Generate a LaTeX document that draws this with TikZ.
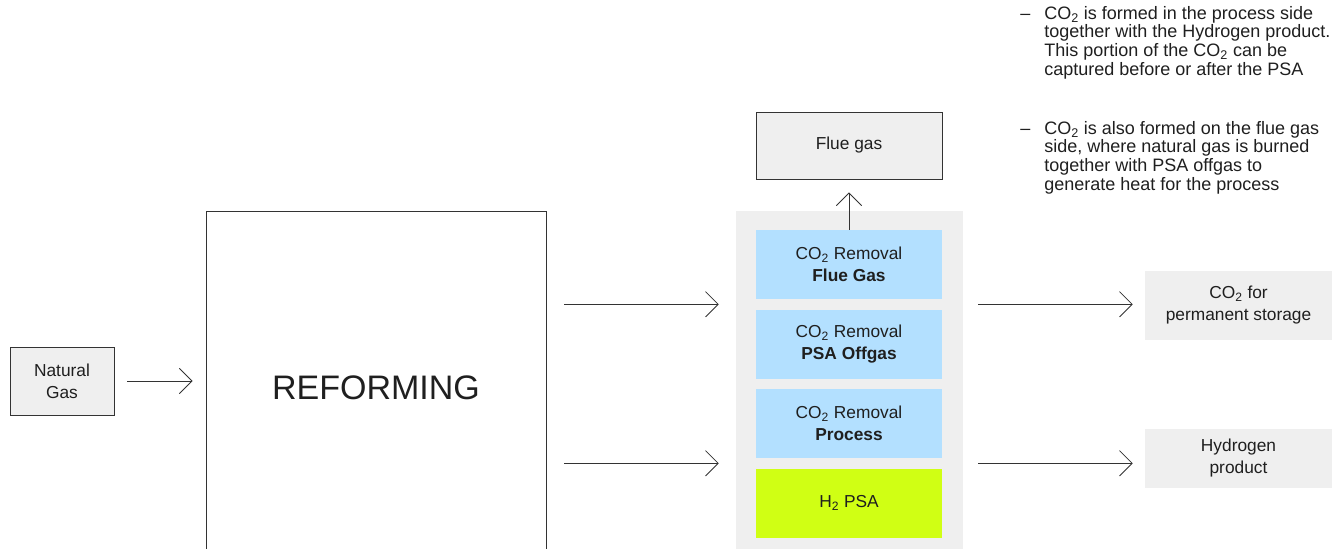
\documentclass[tikz,border=0pt]{standalone}
\usepackage{fontspec}
\setmainfont{Liberation Sans}
\usetikzlibrary{arrows.meta,positioning,calc}
\definecolor{panelgray}{HTML}{EFEFEF}
\definecolor{capblue}{HTML}{B3E0FF}
\definecolor{psagreen}{HTML}{D0FF14}
\definecolor{linegray}{HTML}{333333}
\newcommand{\cotwo}{CO\textsubscript{2}}

\begin{document}
\begin{tikzpicture}[x=0.75pt,y=-0.75pt,
    font=\fontsize{13}{16.5}\selectfont, text=black!88,
    flow/.style={draw=linegray, line width=0.6pt, -{Straight Barb[length=9.5pt,width=19pt]}},
    framedbox/.style={draw=linegray, fill=panelgray, line width=0.6pt, align=center, inner sep=0pt},
    stepbox/.style={fill=capblue, minimum width=139.5pt, minimum height=51.75pt, align=center, inner sep=0pt},
    outbox/.style={fill=panelgray, minimum width=140.25pt, align=center, inner sep=0pt},
    notetext/.style={anchor=north west, inner sep=0pt, font=\fontsize{13.5}{14}\selectfont}]

    \useasboundingbox (0,0) rectangle (1338,549);

    % feed and reformer
    \node[framedbox, minimum width=78pt, minimum height=51pt] (natgas) at (62,381) {Natural\\Gas};
    \node[draw=linegray, line width=0.6pt, minimum width=255pt, minimum height=265.5pt,
        font=\fontsize{25.5}{30}\selectfont] (reform) at (376,388) {REFORMING};

    % capture units
    \node[fill=panelgray, minimum width=170.25pt, minimum height=270pt, inner sep=0pt] (panel) at (849.5,391) {};
    \node[stepbox] (rmflue) at (849,264.5) {\cotwo{} Removal\\\textbf{Flue Gas}};
    \node[stepbox, below=7.5pt of rmflue] (rmoffgas) {\cotwo{} Removal\\\textbf{PSA Offgas}};
    \node[stepbox, below=7.5pt of rmoffgas] (rmproc) {\cotwo{} Removal\\\textbf{Process}};
    \node[stepbox, fill=psagreen, below=7.5pt of rmproc] (h2psa) {H\textsubscript{2} PSA};

    \node[framedbox, minimum width=139.5pt, minimum height=50.25pt] (fluegas) at (849,145.5) {Flue gas};

    % products
    \node[outbox, minimum height=51.75pt] (co2store) at (1238.5,305.5) {\cotwo{} for\\permanent storage};
    \node[outbox, minimum height=44.25pt] (h2prod) at (1238.5,458.5) {Hydrogen\\product};

    \coordinate (upper) at ($(rmflue.south)!0.5!(rmoffgas.north)$);
    \coordinate (lower) at ($(rmproc.south)!0.5!(h2psa.north)$);

    \draw[flow, shorten <=9.75pt, shorten >=9.75pt] (natgas.east) -- (natgas.east -| reform.west);
    \draw[flow, shorten <=13.5pt, shorten >=12.75pt] (upper -| reform.east) -- (upper -| panel.west);
    \draw[flow, shorten <=13.5pt, shorten >=12.75pt] (lower -| reform.east) -- (lower -| panel.west);
    \draw[flow, shorten >=9.75pt] (rmflue.north) -- (fluegas.south);
    \draw[flow, shorten <=11.25pt, shorten >=9pt] (upper -| panel.east) -- (upper -| co2store.west);
    \draw[flow, shorten <=11.25pt, shorten >=9pt] (lower -| panel.east) -- (lower -| h2prod.west);

    % notes
    \node[notetext] (noteproc) at (1020,6) {\begin{tabular}{@{}p{18pt}@{}l@{}}
        --&\cotwo{} is formed in the process side\\
        &together with the Hydrogen product.\\
        &This portion of the \cotwo{} can be\\
        &captured before or after the PSA
    \end{tabular}};
    \node[notetext] (noteflue) at (1020,121) {\begin{tabular}{@{}p{18pt}@{}l@{}}
        --&\cotwo{} is also formed on the flue gas\\
        &side, where natural gas is burned\\
        &together with PSA offgas to\\
        &generate heat for the process
    \end{tabular}};
\end{tikzpicture}
\end{document}
